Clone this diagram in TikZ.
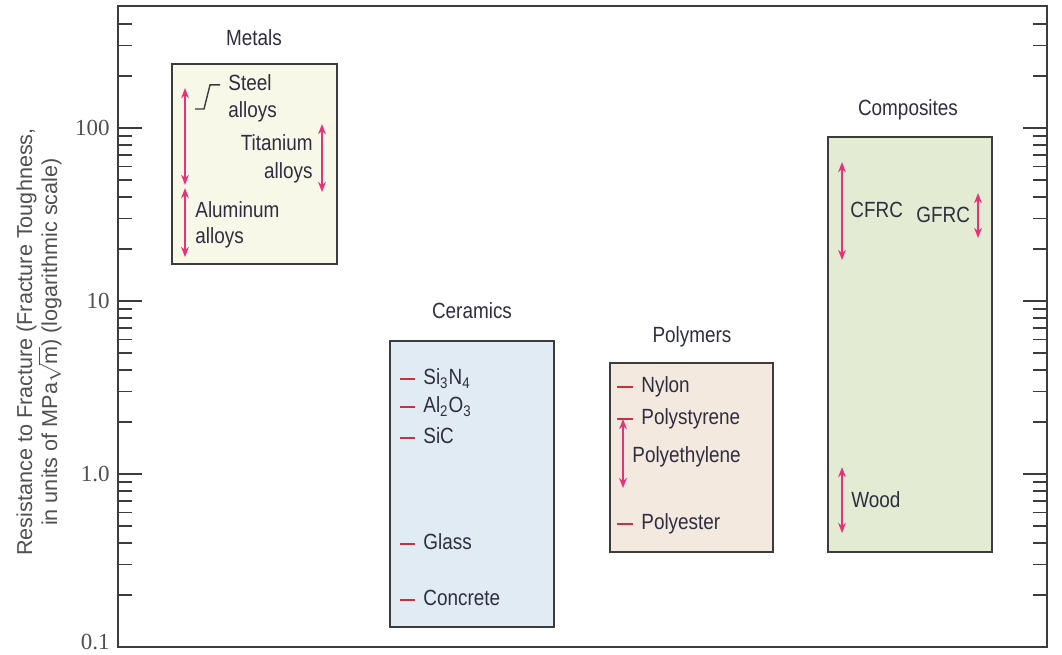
\documentclass[tikz,border=0pt]{standalone}
\usepackage{amsmath}
\usepackage{fontspec}
\setmainfont{Liberation Sans}[FakeStretch=0.86]
\newfontfamily\axisfont{Liberation Sans}
\newfontfamily\numfont{Liberation Serif}
\usepackage{tikz}
\usetikzlibrary{arrows.meta, positioning, calc}
\definecolor{frameGray}{HTML}{3C3C3C}
\definecolor{textNavy}{HTML}{2E2E40}
\definecolor{axisGray}{HTML}{505050}
\definecolor{rangePink}{HTML}{E8317A}
\definecolor{itemRed}{HTML}{C8323C}
\definecolor{metalFill}{HTML}{F8F8E8}
\definecolor{ceramicFill}{HTML}{E1EBF3}
\definecolor{polymerFill}{HTML}{F3E9DE}
\definecolor{compositeFill}{HTML}{E3EBD3}

\begin{document}
\begin{tikzpicture}[>={Stealth[length=5pt, width=3.8pt, inset=1.5pt]}, x=0.5pt, y=86.5pt,
    axistext/.style={text=axisGray, inner sep=1pt},
    lbl/.style={font=\fontsize{11}{14}\selectfont, text=textNavy, inner sep=1pt,
                text height=7.9pt, text depth=2.2pt},
    classbox/.style={draw=frameGray, line width=0.8pt},
    rangebar/.style={<->, rangePink, line width=1pt},
    itemtick/.style={itemRed, line width=0.8pt},
    tickmark/.style={frameGray, line width=0.8pt},
    leader/.style={frameGray, line width=0.7pt}]
    \useasboundingbox (0,-1.046) rectangle (1062,2.740);

    % frame and log ticks
    \draw[frameGray, line width=1pt] (118,-1) rectangle (1047,2.705);
    \foreach \d in {-1,0,1} {
        \foreach \m in {2,...,9} {
            \draw[tickmark] (118,{\d+ln(\m)/ln(10)}) -- ++(14,0);
            \draw[tickmark] (1047,{\d+ln(\m)/ln(10)}) -- ++(-14,0);
        }
    }
    \foreach \m in {2,3,4} {
        \draw[tickmark] (118,{2+ln(\m)/ln(10)}) -- ++(14,0);
        \draw[tickmark] (1047,{2+ln(\m)/ln(10)}) -- ++(-14,0);
    }
    \foreach \d in {0,1,2} {
        \draw[tickmark] (118,\d) -- ++(24,0);
        \draw[tickmark] (1047,\d) -- ++(-24,0);
    }

    \node[axistext, font=\numfont\fontsize{11.5}{13}\selectfont, anchor=east] (t100) at (112,2) {100};
    \node[axistext, font=\numfont\fontsize{11.5}{13}\selectfont, anchor=east] (t10) at (112,1) {10};
    \node[axistext, font=\numfont\fontsize{11.5}{13}\selectfont, anchor=east] (t1) at (112,0) {1.0};
    \node[axistext, font=\numfont\fontsize{11.5}{13}\selectfont, anchor=east] (t01) at (112,-0.97) {0.1};

    \node[axistext, rotate=90, align=center, font=\axisfont\fontsize{10.8}{12.5}\selectfont] (ylabel) at (39,0.763)
        {Resistance to Fracture (Fracture Toughness,\\ in units of MPa$\sqrt{\text{m}}$) (logarithmic scale)};

    \begin{scope}
        % Metals
        \node[lbl] (metals) at (254,2.509) {Metals};
        \filldraw[classbox, fill=metalFill] (172,1.214) rectangle (337,2.370);

        \node[lbl, anchor=west] (steel) at (226,2.249) {Steel};
        \node[lbl, anchor=west] (steelAlloys) at (226,2.092) {alloys};
        \draw[leader] ([xshift=-3pt]steel.west) -- ++(-10,0) -- ++(-6,-0.139) -- ++(-9,0);
        \draw[rangebar] (185,2.231) -- (185,1.671);

        \node[lbl, anchor=east] (titanium) at (315,1.902) {Titanium};
        \node[lbl, anchor=east] (titaniumAlloys) at (315,1.740) {alloys};
        \draw[rangebar] (322,2.023) -- (322,1.630);

        \node[lbl, anchor=west] (aluminum) at (193,1.514) {Aluminum};
        \node[lbl, anchor=west] (aluminumAlloys) at (193,1.364) {alloys};
        \draw[rangebar] (185,1.653) -- (185,1.254);
    \end{scope}

    \begin{scope}
        % Ceramics
        \node[lbl] (ceramics) at (472,0.931) {Ceramics};
        \filldraw[classbox, fill=ceramicFill] (390,-0.884) rectangle (554,0.769);
        \foreach \y/\name/\txt in {0.549/si3n4/{Si\textsubscript{3}N\textsubscript{4}},
                                   0.387/al2o3/{Al\textsubscript{2}O\textsubscript{3}},
                                   0.208/sic/SiC, -0.405/glass/Glass, -0.728/concrete/Concrete} {
            \node[lbl, anchor=west] (\name) at (421,\y) {\txt};
            \draw[itemtick] ([xshift=-3pt]\name.west) -- ++(-15,0);
        }
    \end{scope}

    \begin{scope}
        % Polymers
        \node[lbl] (polymers) at (692,0.792) {Polymers};
        \filldraw[classbox, fill=polymerFill] (610,-0.451) rectangle (773,0.642);
        \foreach \y/\name/\txt in {0.503/nylon/Nylon, 0.318/polystyrene/Polystyrene,
                                   -0.289/polyester/Polyester} {
            \node[lbl, anchor=west] (\name) at (639,\y) {\txt};
            \draw[itemtick] ([xshift=-3pt]\name.west) -- ++(-16,0);
        }
        \node[lbl, anchor=west] (polyethylene) at (630,0.098) {Polyethylene};
        \draw[rangebar] (623,0.318) -- (623,-0.081);
    \end{scope}

    \begin{scope}
        % Composites
        \node[lbl] (composites) at (908,2.104) {Composites};
        \filldraw[classbox, fill=compositeFill] (828,-0.451) rectangle (992,1.948);

        \node[lbl, anchor=west] (cfrc) at (848,1.514) {CFRC};
        \draw[rangebar] (842,1.803) -- (842,1.237);

        \node[lbl, anchor=west] (gfrc) at (914,1.486) {GFRC};
        \draw[rangebar] (978,1.624) -- (978,1.364);

        \node[lbl, anchor=west] (wood) at (849,-0.162) {Wood};
        \draw[rangebar] (842,0.040) -- (842,-0.341);
    \end{scope}
\end{tikzpicture}
\end{document}
